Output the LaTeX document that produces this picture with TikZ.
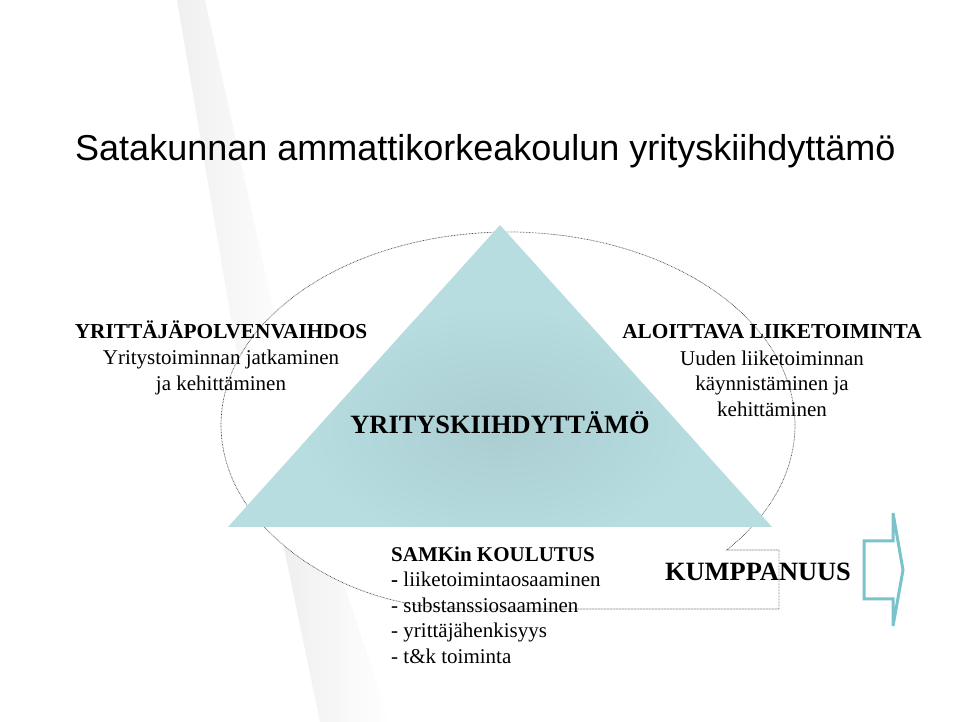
\documentclass[tikz,border=0pt]{standalone}
\usepackage{fontspec}
\setmainfont{Liberation Serif}
\newfontfamily\titlefont{Liberation Sans}
\usetikzlibrary{calc}
\definecolor{tri}{HTML}{B7DDE1}
\definecolor{tridark}{HTML}{AACDD1}
\definecolor{arrowteal}{HTML}{7BC3CB}
\definecolor{outline}{HTML}{4A4A4A}
\begin{document}
\begin{tikzpicture}[x=1pt,y=1pt,
  txt/.style={inner sep=0pt, anchor=base, font=\fontsize{21}{25}\selectfont},
  hd/.style={inner sep=0pt, anchor=base, font=\fontsize{21.3}{25}\selectfont\bfseries},
  big/.style={inner sep=0pt, anchor=base, font=\fontsize{26.4}{30}\selectfont\bfseries},
  lst/.style={inner sep=0pt, anchor=base west, font=\fontsize{21}{25}\selectfont},
  frame/.style={draw=outline, line width=0.7pt, dash pattern=on 0.7pt off 0.8pt, fill=white},
  arrowbox/.style={draw=arrowteal, line width=3pt, line join=miter}]
\useasboundingbox (0,0) rectangle (960,722);
\fill[white] (0,0) rectangle (960,722);
% background ribbon
\shade[left color=black!6, right color=white]
  (177,722) -- (205,722) -- (300,292) -- (250,292) -- cycle;
\shade[left color=black!8, right color=white]
  (255,292) -- (300,292) -- (330,179) -- (390,0) -- (320,0) -- (283,179) -- cycle;
% dotted outline shape
\draw[frame] (779,113) -- (779,172)
  -- ($(508,297)+(-40.4:287 and 193)$)
  arc[start angle=-40.4, end angle=222.4, x radius=287, y radius=193]
  .. controls (356,123) and (420,113) .. (470,113) -- cycle;
% triangle
\begin{scope}
  \clip (228,195) -- (500,497) -- (772,195) -- cycle;
  \fill[tri] (228,195) rectangle (772,497);
  \shade[inner color=tridark, outer color=tri] (500,295) ellipse (200 and 120);
\end{scope}
% title
\node[inner sep=0pt, anchor=base west, font=\titlefont\fontsize{36}{40}\selectfont] (title) at (75,561) {Satakunnan ammattikorkeakoulun yrityskiihdyttämö};
% left block
\node[hd]  (l1) at (221,383) {YRITTÄJÄPOLVENVAIHDOS};
\node[txt] (l2) at (221,357) {Yritystoiminnan jatkaminen};
\node[txt] (l3) at (221,331) {ja kehittäminen};
% right block
\node[hd]  (r1) at (772,383) {ALOITTAVA LIIKETOIMINTA};
\node[txt] (r2) at (772,356.5) {Uuden liiketoiminnan};
\node[txt] (r3) at (772,331) {käynnistäminen ja};
\node[txt] (r4) at (772,305.5) {kehittäminen};
% centre
\node[big] (yk) at (500,288) {YRITYSKIIHDYTTÄMÖ};
% bottom block
\node[lst, font=\fontsize{21}{25}\selectfont\bfseries] (b1) at (391,160) {SAMKin KOULUTUS};
\node[lst] (b2) at (391,135) {\textbf{-} liiketoimintaosaaminen};
\node[lst] (b3) at (391,109.5) {- substanssiosaaminen};
\node[lst] (b4) at (391,84) {- yrittäjähenkisyys};
\node[lst] (b5) at (391,58.5) {- t\&k toiminta};
% partnership
\node[big] (kp) at (758,141) {KUMPPANUUS};
% block arrow
\draw[arrowbox] (864,181) -- (893,181) -- (893,209) -- (903,152) -- (893,96) -- (893,123) -- (864,123) -- cycle;
\end{tikzpicture}
\end{document}
